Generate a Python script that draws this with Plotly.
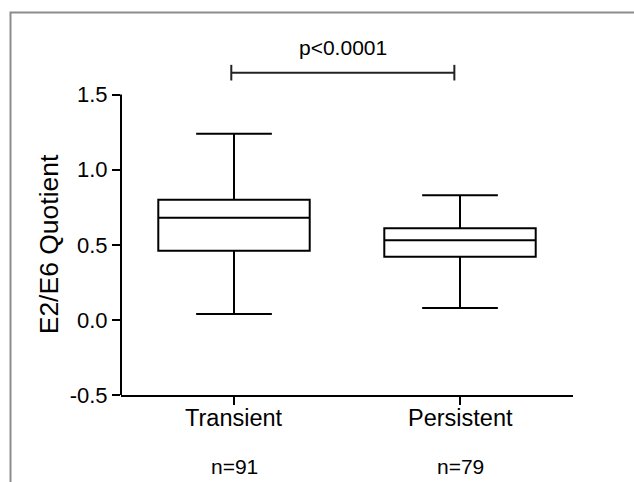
import plotly.graph_objects as go

# ---- data ----
categories = ["Transient", "Persistent"]
counts = [91, 79]
lower_whisker = [0.04, 0.08]
q1 = [0.46, 0.42]
median = [0.68, 0.53]
q3 = [0.80, 0.61]
upper_whisker = [1.24, 0.83]
y_ticks = [-0.5, 0.0, 0.5, 1.0, 1.5]
y_tick_labels = ["-0.5", "0.0", "0.5", "1.0", "1.5"]
p_label = "p<0.0001"
bracket_y = 1.646
y_title = "E2/E6 Quotient"

FONT = "Liberation Sans, Arial, sans-serif"
W, H = 634, 482
ML, MR, MT, MB = 121, 61, 56, 87
y_lo = -0.5
y_hi = y_lo + (H - MT - MB) / 150.2
pw = W - ML - MR
ph = H - MT - MB

fig = go.Figure()
fig.add_trace(go.Box(
    x=categories,
    q1=q1, median=median, q3=q3,
    lowerfence=lower_whisker, upperfence=upper_whisker,
    boxpoints=False,
    width=0.67,
    whiskerwidth=0.5,
    fillcolor="rgba(255,255,255,0)",
    line=dict(color="black", width=2),
    showlegend=False,
    hoverinfo="skip",
))

shapes = []
# y axis line (only over the labelled range)
shapes.append(dict(type="line", xref="paper", yref="y", x0=0, x1=0,
                   y0=y_ticks[0], y1=y_ticks[-1],
                   line=dict(color="black", width=2)))
# significance bracket
bx0, bx1 = -0.012, 0.975
shapes.append(dict(type="line", xref="x", yref="y", x0=bx0, x1=bx1,
                   y0=bracket_y, y1=bracket_y, line=dict(color="#222", width=2)))
for bx in (bx0, bx1):
    shapes.append(dict(type="line", xref="x", yref="y", x0=bx, x1=bx,
                       y0=bracket_y - 0.052, y1=bracket_y + 0.052,
                       line=dict(color="#222", width=2)))
# outer gray frame
shapes.append(dict(type="rect", xref="paper", yref="paper",
                   x0=(10.5 - ML) / pw, x1=(W + 20 - ML) / pw,
                   y0=-(MB + 20) / ph, y1=(H - 12.5 - MB) / ph,
                   line=dict(color="#8c8c8c", width=2), fillcolor="rgba(0,0,0,0)"))

annotations = []
annotations.append(dict(x=(bx0 + bx1) / 2, y=(H - 48 - MB) / ph, xref="x", yref="paper",
                        text=p_label, showarrow=False, yanchor="middle",
                        font=dict(family=FONT, size=21, color="black")))
for i, (c, n) in enumerate(zip(categories, counts)):
    annotations.append(dict(x=i, y=-(418 - (H - MB)) / ph, xref="x", yref="paper",
                            text=c, showarrow=False, yanchor="middle",
                            font=dict(family=FONT, size=23.5, color="black")))
    annotations.append(dict(x=i, y=-(466.5 - (H - MB)) / ph, xref="x", yref="paper",
                            text=f"n={n}", showarrow=False, yanchor="middle",
                            font=dict(family=FONT, size=21, color="black")))
annotations.append(dict(x=(48.5 - ML) / pw, y=(y_ticks[0] + y_ticks[-1]) / 2,
                        xref="paper", yref="y", text=y_title, textangle=-90,
                        showarrow=False, xanchor="center", yanchor="middle",
                        font=dict(family=FONT, size=26.5, color="black")))

fig.update_layout(
    width=W, height=H,
    margin=dict(l=ML, r=MR, t=MT, b=MB, pad=0),
    paper_bgcolor="white", plot_bgcolor="white",
    font=dict(family=FONT, color="black"),
    shapes=shapes, annotations=annotations,
    xaxis=dict(type="category", range=[-0.5, 1.5], showline=True, linecolor="black",
               linewidth=2, ticks="outside", ticklen=8, tickwidth=1.5, tickcolor="black",
               showgrid=False, zeroline=False, showticklabels=False),
    yaxis=dict(range=[y_lo, y_hi], showline=False, tickvals=y_ticks, ticktext=y_tick_labels,
               ticks="outside", ticklen=8, tickwidth=1.5, tickcolor="black",
               showgrid=False, zeroline=False, tickfont=dict(family=FONT, size=22)),
)

fig.write_html("out.html")
